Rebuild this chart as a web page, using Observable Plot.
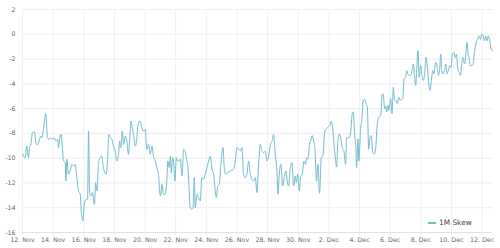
<!DOCTYPE html>
<html>
<head>
<meta charset="utf-8">
<script src="https://cdn.jsdelivr.net/npm/d3@7"></script>
<script src="https://cdn.jsdelivr.net/npm/@observablehq/plot@0.6"></script>
<style>
  html, body { margin: 0; padding: 0; background: #fff; }
  #wrap { position: relative; width: 500px; height: 248px; overflow: hidden; }
  #legend { position: absolute; left: 428px; top: 217px; font-family: "DejaVu Sans", sans-serif; font-size: 7.4px; color: #444; white-space: nowrap; line-height: 11px; }
  #legend .sw { display: inline-block; width: 8px; height: 1.2px; background: #72bdcc; vertical-align: middle; margin-right: 3px; }
</style>
</head>
<body>
<div id="wrap"><div id="legend"><span class="sw"></span>1M Skew</div></div>
<script>
const seriesName = "1M Skew";
const startDate = "2021-11-12";
// days since 12 Nov 00:00 (UTC)
const dayOffsets = [
0.00,0.17,0.28,0.39,0.46,0.54,0.65,0.78,0.87,0.98,
1.11,1.20,1.26,1.37,1.52,1.63,1.74,1.85,1.96,2.07,
2.18,2.29,2.35,2.46,2.53,2.61,2.68,2.79,2.83,2.90,
3.00,3.11,3.22,3.33,3.44,3.55,3.66,3.77,3.83,3.94,
4.03,4.16,4.25,4.31,4.38,4.46,4.57,4.64,4.70,4.77,
4.86,4.96,5.07,5.18,5.25,5.33,5.46,5.55,5.64,5.73,
5.83,5.94,6.05,6.16,6.27,6.34,6.42,6.51,6.60,6.71,
6.81,6.92,6.99,7.08,7.16,7.25,7.36,7.47,7.53,7.66,
7.79,7.90,8.01,8.12,8.23,8.34,8.45,8.56,8.67,8.77,
8.88,8.95,9.01,9.10,9.21,9.32,9.43,9.49,9.58,9.65,
9.71,9.80,9.86,9.95,10.04,10.12,10.21,10.30,10.41,10.52,
10.62,10.73,10.80,10.86,10.95,11.06,11.13,11.21,11.28,11.39,
11.50,11.60,11.71,11.82,11.93,12.04,12.15,12.26,12.37,12.48,
12.58,12.65,12.74,12.85,12.95,13.09,13.17,13.28,13.39,13.56,
13.78,13.89,14.00,14.11,14.22,14.33,14.43,14.54,14.65,14.76,
14.87,15.09,15.20,15.30,15.41,15.52,15.63,15.74,15.85,15.96,
16.07,16.18,16.29,16.39,16.50,16.61,16.68,16.76,16.87,16.98,
17.09,17.20,17.26,17.37,17.48,17.59,17.70,17.81,17.87,17.96,
18.07,
18.15,18.26,18.37,18.48,18.54,18.63,18.74,18.85,18.91,19.02,
19.09,19.19,19.28,19.39,19.50,19.61,19.72,19.83,19.94,20.07,
20.15,20.24,20.33,20.42,20.50,20.59,20.68,20.76,20.87,20.98,
21.09,21.16,21.24,21.35,21.42,21.53,21.59,21.68,21.77,21.81,
21.90,21.96,22.07,22.16,22.25,22.33,22.42,22.51,22.60,22.68,
22.77,22.86,22.95,23.05,
23.16,23.27,23.38,23.49,23.55,23.64,23.71,23.77,23.86,23.92,
24.03,24.12,24.21,24.29,24.38,24.47,24.56,24.64,24.73,24.82,
24.91,25.01,25.08,25.16,25.25,25.34,25.43,25.51,25.58,25.67,
25.73,25.82,25.89,25.99,26.08,26.17,26.26,26.34,26.43,26.52,
26.60,26.69,26.78,26.86,
26.97,27.08,27.15,27.24,27.30,27.37,27.46,27.54,27.63,27.71,
27.80,27.89,27.98,28.06,28.17,28.24,28.33,28.41,28.50,28.59,
28.67,28.76,28.85,28.94,29.02,29.09,29.15,29.24,29.33,29.41,
29.50,29.59,29.70,29.80,29.89,29.98,30.07,30.15,30.24,30.33,
30.41,30.50,30.59,30.68
];
const skew = [
-9.64,-9.96,-9.02,-9.96,-9.15,-8.94,-7.95,-7.87,-8.75,-8.94,
-8.48,-8.21,-8.35,-7.68,-6.4,-8.35,-8.48,-8.35,-8.48,-8.35,
-8.62,-8.48,-9.15,-8.21,-8.08,-9.29,-10.23,-10.36,-11.84,-10.09,
-11.30,-11.03,-10.50,-10.63,-10.50,-11.57,-12.64,-12.91,-14.25,-15.06,
-13.72,-13.32,-13.32,-7.81,-12.64,-13.05,-12.78,-13.45,-13.72,-11.97,
-12.64,-10.50,-9.96,-9.83,-10.50,-11.03,-11.30,-10.23,-8.08,-8.35,
-8.48,-9.02,-9.42,-10.23,-9.69,-8.62,-9.15,-7.81,-8.89,-8.21,
-8.62,-9.69,-8.62,-7.0,-7.54,-8.08,-9.02,-8.35,-7.41,-7.0,
-7.54,-7.81,-7.68,-9.29,-8.89,-9.69,-9.02,-9.96,-10.23,-10.77,
-11.30,-12.64,-13.05,-12.11,-12.91,-12.91,-11.57,-10.23,-10.77,-9.83,
-11.17,-9.96,-10.23,-11.84,-9.96,-10.23,-10.23,-10.09,-11.44,-9.29,
-9.42,-10.23,-10.77,-12.11,-13.99,-14.12,-13.99,-11.57,-13.99,-12.91,
-13.18,-13.45,-11.57,-11.70,-11.30,-10.77,-10.23,-9.83,-10.90,-11.30,
-12.64,-13.18,-12.24,-12.11,-10.50,-9.15,-10.77,-11.30,-11.17,-11.03,
-10.90,-10.23,-9.15,-9.29,-9.42,-9.15,-11.30,-11.57,-11.30,-10.23,
-11.30,-11.84,-11.57,-12.78,-10.50,-8.89,-9.42,-9.56,-9.42,-10.23,
-9.83,-8.89,-8.62,-8.08,-9.69,-11.03,-12.91,-11.30,-10.50,-12.24,
-11.57,-11.03,-11.70,-12.24,-10.77,-10.36,-12.24,-11.44,-11.97,-11.30,
-12.64,
-11.46,-11.32,-10.23,-10.50,-9.96,-10.09,-8.86,-8.45,-8.18,-8.73,
-9.27,-11.87,-10.50,-12.83,-9.96,-9.82,-7.91,-7.63,-7.50,-7.36,
-7.01,-7.50,-8.86,-9.96,-10.72,-8.59,-8.04,-8.32,-9.14,-9.41,
-10.50,-8.32,-8.37,-8.32,-7.91,-6.40,-6.27,-8.04,-9.41,-10.78,
-8.45,-10.23,-7.63,-6.81,-5.31,-5.26,-5.58,-5.86,-9.27,-8.32,
-8.18,-9.55,-9.68,-9.27,
-7.20,-6.67,-6.53,-4.80,-4.85,-6.00,-5.81,-6.27,-5.73,-6.13,
-5.20,-6.40,-4.27,-5.33,-5.33,-5.60,-5.07,-5.33,-5.28,-5.20,
-3.60,-3.47,-2.93,-3.20,-3.33,-3.33,-2.93,-2.40,-3.20,-4.13,
-2.93,-1.33,-3.47,-2.53,-3.33,-3.73,-3.07,-1.87,-2.67,-4.00,
-4.53,-3.73,-2.93,-3.20,
-2.27,-2.67,-3.33,-2.67,-1.60,-2.93,-3.20,-2.93,-2.40,-3.20,
-2.93,-2.53,-2.67,-1.60,-1.47,-1.87,-1.60,-2.80,-3.07,-3.33,
-2.40,-1.87,-2.40,-1.60,-0.67,-1.60,-1.87,-2.53,-2.53,-2.40,
-1.47,-0.80,-0.40,-0.13,-0.40,0.00,-0.13,-0.53,-0.13,-0.53,
-0.13,-0.53,-1.20,-1.33
];
const yTicks = [2, 0, -2, -4, -6, -8, -10, -12, -14, -16];
const xTickDates = ["2021-11-12","2021-11-14","2021-11-16","2021-11-18","2021-11-20","2021-11-22",
  "2021-11-24","2021-11-26","2021-11-28","2021-11-30","2021-12-02","2021-12-04",
  "2021-12-06","2021-12-08","2021-12-10","2021-12-12"];

const t0 = new Date(startDate + "T00:00:00Z").getTime();
const n = Math.min(dayOffsets.length, skew.length);
const data = [];
for (let i = 0; i < n; i++) data.push({date: new Date(t0 + dayOffsets[i] * 864e5), value: skew[i]});
const xTicks = xTickDates.map(s => new Date(s + "T00:00:00Z"));
const fmt = d3.utcFormat("%-d. %b");

const chart = Plot.plot({
  width: 500,
  height: 248,
  marginLeft: 22,
  marginRight: 8,
  marginTop: 9,
  marginBottom: 16,
  style: {fontFamily: "DejaVu Sans, sans-serif", fontSize: "6.3px", color: "#666", background: "#fff"},
  x: {type: "utc", domain: [data[0].date, data[n - 1].date], label: null},
  y: {domain: [-16, 2], label: null},
  marks: [
    Plot.gridY(yTicks, {stroke: "#ededed", strokeOpacity: 1, strokeWidth: 1}),
    Plot.gridX(xTicks, {stroke: "#eef0f4", strokeOpacity: 1, strokeWidth: 1}),
    Plot.ruleY([-16], {stroke: "#dde2ec", strokeWidth: 1}),
    Plot.axisY(yTicks, {anchor: "left", label: null, tickSize: 0, tickPadding: 7, tickFormat: d => String(d), fill: "#666"}),
    Plot.axisX(xTicks, {anchor: "bottom", label: null, tickSize: 3, tickPadding: 2, tickFormat: fmt, stroke: "#e3e7ef", fill: "#666"}),
    Plot.line(data, {x: "date", y: "value", stroke: "#72bdcc", strokeWidth: 1, curve: "monotone-x", title: () => seriesName})
  ]
});
document.getElementById("wrap").prepend(chart);
</script>
</body>
</html>
